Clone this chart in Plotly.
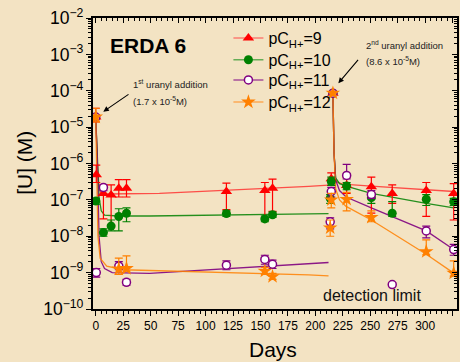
import plotly.graph_objects as go
import math

BG = "#F3E3C3"
FONT = "Liberation Sans, Arial, sans-serif"

# ---------------- measured data (days, [U] in M, error bounds) ----------------
red_days = [0, 0.5, 7, 14, 21, 28, 119, 154, 161, 214.5, 216, 228.5, 251, 270, 301, 326]
red_vals = [1.9e-5, 4.9e-7, 1.5e-7, 1.36e-7, 2.1e-7, 2.1e-7, 1.7e-7, 1.8e-7, 2.1e-7, 3.8e-7, 8.6e-5, 2.5e-7, 2.3e-7, 1.5e-7, 1.8e-7, 1.5e-7]
red_hi = [3.3e-5, 9e-7, 2.3e-7, 2.6e-7, 3.6e-7, 3.6e-7, 2.9e-7, 3.0e-7, 3.7e-7, 5.5e-7, 9.5e-5, 4.2e-7, 4.2e-7, 2.6e-7, 3.0e-7, 2.8e-7]
red_lo = [1.4e-5, 3e-7, 3e-8, 2e-8, 1.2e-7, 1.2e-7, 5.4e-8, 3.2e-8, 4.8e-8, 2.5e-7, 7.5e-5, 1.5e-7, 4.3e-8, 8e-8, 3.5e-8, 2.8e-8]

green_days = [0, 7, 14, 21, 28, 119, 154, 161, 213.5, 214.5, 216, 228.5, 251, 270, 301, 326]
green_vals = [9.3e-8, 1.26e-8, 1.9e-8, 3.5e-8, 4.3e-8, 4.2e-8, 3.0e-8, 3.9e-8, 1.1e-7, 3.2e-7, 8.6e-5, 2.4e-7, 1.15e-7, 4.3e-8, 1.04e-7, 8.9e-8]
green_hi = [1.1e-7, 1.6e-8, 2.8e-8, 5.7e-8, 6e-8, 5e-8, 3.6e-8, 4.6e-8, 1.4e-7, 4.2e-7, 9.5e-5, 3e-7, 1.5e-7, 9e-8, 1.4e-7, 1.1e-7]
green_lo = [7.5e-8, 1e-8, 1.4e-8, 1.4e-8, 2.5e-8, 3.5e-8, 2.5e-8, 3.3e-8, 8e-8, 2.5e-7, 7.5e-5, 1.9e-7, 8e-8, 3.5e-8, 7e-8, 7e-8]

purple_days = [0, 0.5, 7, 21, 28, 119, 154, 161, 213.5, 214.5, 216, 228.5, 251, 270, 301, 326]
purple_vals = [1.9e-5, 1.0e-9, 2.2e-7, 1.5e-9, 5.4e-10, 1.6e-9, 2.3e-9, 1.7e-9, 2.5e-8, 1.7e-7, 8.6e-5, 4.7e-7, 1.4e-7, 4.7e-10, 1.4e-8, 4.3e-9]
purple_hi = [2.2e-5, 1.3e-9, 2.6e-7, 2.0e-9, 6.5e-10, 2.1e-9, 3.0e-9, 2.2e-9, 3.2e-8, 2.2e-7, 9.5e-5, 9.5e-7, 1.8e-7, 5.2e-10, 1.9e-8, 6e-9]
purple_lo = [1.6e-5, 7.5e-10, 1.8e-7, 1.2e-9, 4.5e-10, 1.2e-9, 1.7e-9, 1.3e-9, 1.6e-8, 1.2e-7, 7.5e-5, 3.8e-7, 1.1e-7, 4.3e-10, 9e-9, 3e-9]

orange_days = [0, 21, 28, 154, 161, 213.5, 214.5, 216, 228.5, 251, 301, 326]
orange_vals = [1.9e-5, 1.26e-9, 1.3e-9, 1.1e-9, 7.8e-10, 1.7e-8, 1.0e-7, 8.6e-5, 1.04e-7, 3.3e-8, 3.8e-9, 9.7e-10]
orange_hi = [3.3e-5, 2.5e-9, 2.9e-9, 1.4e-9, 9.5e-10, 2.8e-8, 1.5e-7, 9.5e-5, 1.6e-7, 5e-8, 8e-9, 2.1e-9]
orange_lo = [1.4e-5, 9e-10, 1.1e-9, 9e-10, 6.5e-10, 1e-8, 6e-8, 7.5e-5, 5e-8, 2.5e-8, 3.1e-9, 8e-10]

# ---------------- model curves ----------------
red_fit1_days = [0, 1.5, 3, 5, 10, 58, 194, 212]
red_fit1_vals = [1.8e-5, 1e-6, 2.2e-7, 1.5e-7, 1.45e-7, 1.5e-7, 2.35e-7, 2.55e-7]
red_fit2_days = [216, 217, 218.5, 225, 251, 301, 326]
red_fit2_vals = [8.6e-5, 2e-6, 3.2e-7, 2.7e-7, 2.4e-7, 1.9e-7, 1.7e-7]

green_fit1_days = [0, 1.5, 3, 5, 8, 20, 49, 194, 212]
green_fit1_vals = [1.8e-5, 1e-6, 1.2e-7, 5e-8, 3.8e-8, 3.6e-8, 3.6e-8, 4.1e-8, 4.2e-8]
green_fit2_days = [216, 217, 218.5, 222, 228, 251, 301, 326]
green_fit2_vals = [8.6e-5, 2e-6, 4e-7, 2.8e-7, 2.4e-7, 1.5e-7, 8e-8, 6e-8]

purple_fit1_days = [0, 1.5, 3, 5, 8, 15, 49, 194, 212]
purple_fit1_vals = [1.8e-5, 1e-6, 1e-8, 2e-9, 1.3e-9, 1e-9, 9.5e-10, 1.8e-9, 1.9e-9]
purple_fit2_days = [216, 217, 218.5, 222, 228, 251, 301, 326]
purple_fit2_vals = [8.6e-5, 2e-6, 3.5e-7, 1.8e-7, 1.2e-7, 6e-8, 1.4e-8, 4.3e-9]

orange_fit1_days = [0, 1, 2, 4, 10, 25, 49, 194, 212]
orange_fit1_vals = [1.8e-5, 1e-6, 1e-8, 2.5e-9, 1.5e-9, 1.2e-9, 1.15e-9, 8.7e-10, 8.1e-10]
orange_fit2_days = [216, 217, 218.5, 222, 228, 251, 301, 326]
orange_fit2_vals = [8.6e-5, 2e-6, 2e-7, 1e-7, 6.6e-8, 2.8e-8, 3.2e-9, 9.7e-10]

DETECTION_LIMIT = 5e-10

legend_labels = ["pC<sub>H+</sub>=9", "pC<sub>H+</sub>=10", "pC<sub>H+</sub>=11", "pC<sub>H+</sub>=12"]

# ---------------- styles ----------------
series = [
    dict(days=red_days, vals=red_vals, hi=red_hi, lo=red_lo,
         f1=(red_fit1_days, red_fit1_vals), f2=(red_fit2_days, red_fit2_vals),
         color="#FF0000", line="rgba(255,40,40,0.8)", leg="rgba(255,80,80,0.7)",
         marker=dict(symbol="triangle-up", size=10, color="#FF0000", line=dict(width=0))),
    dict(days=green_days, vals=green_vals, hi=green_hi, lo=green_lo,
         f1=(green_fit1_days, green_fit1_vals), f2=(green_fit2_days, green_fit2_vals),
         color="#008000", line="rgba(0,128,0,0.85)", leg="rgba(40,150,40,0.7)",
         marker=dict(symbol="circle", size=9, color="#008000", line=dict(width=0))),
    dict(days=purple_days, vals=purple_vals, hi=purple_hi, lo=purple_lo,
         f1=(purple_fit1_days, purple_fit1_vals), f2=(purple_fit2_days, purple_fit2_vals),
         color="#800080", line="rgba(128,0,128,0.9)", leg="rgba(140,30,140,0.75)",
         marker=dict(symbol="circle", size=8, color="#FFFFFF", line=dict(width=1.5, color="#800080"))),
    dict(days=orange_days, vals=orange_vals, hi=orange_hi, lo=orange_lo,
         f1=(orange_fit1_days, orange_fit1_vals), f2=(orange_fit2_days, orange_fit2_vals),
         color="#FF8000", line="rgba(255,128,0,0.85)", leg="rgba(255,150,50,0.75)",
         marker=dict(symbol="star", size=11, color="#FF8000", line=dict(width=0))),
]

fig = go.Figure()

# fitted curves
for s in series:
    for fd, fv in (s["f1"], s["f2"]):
        fig.add_trace(go.Scatter(x=fd, y=fv, mode="lines", showlegend=False,
                                 line=dict(color=s["line"], width=1.3), hoverinfo="skip"))

# measured points with error bars
for s in series:
    fig.add_trace(go.Scatter(
        x=s["days"], y=s["vals"], mode="markers", showlegend=False,
        marker=s["marker"],
        error_y=dict(type="data", symmetric=False,
                     array=[h - v for h, v in zip(s["hi"], s["vals"])],
                     arrayminus=[v - l for v, l in zip(s["vals"], s["lo"])],
                     color=s["color"], thickness=1.2, width=4),
    ))

# legend entries, each in its own legend box so row spacing matches the reference
legend_names = ["legend", "legend2", "legend3", "legend4"]
legend_rows = [0.931, 0.856, 0.787, 0.711]
for s, lab, ln in zip(series, legend_labels, legend_names):
    fig.add_trace(go.Scatter(x=[None], y=[None], mode="lines+markers", name=lab, legend=ln,
                             line=dict(color=s["leg"], width=1.5), marker=s["marker"]))

# invisible trace for mirrored axes
fig.add_trace(go.Scatter(x=[None], y=[None], xaxis="x2", yaxis="y2", showlegend=False))

# detection limit
fig.add_shape(type="line", xref="paper", x0=0, x1=1, yref="y",
              y0=math.log10(DETECTION_LIMIT), y1=math.log10(DETECTION_LIMIT),
              line=dict(color="black", width=1.2, dash="dash"))

XR = [-2.5, 329]
YR = [-10, -2]

axis_common = dict(showline=True, linecolor="black", linewidth=1.5, showgrid=False,
                   zeroline=False, tickcolor="black")

layout_legends = {}
for ln, ry in zip(legend_names, legend_rows):
    layout_legends[ln] = dict(x=0.372, y=ry, xanchor="left", yanchor="middle",
                              bgcolor="rgba(0,0,0,0)", font=dict(size=16, family=FONT),
                              itemwidth=30)

fig.update_layout(
    width=460, height=362,
    margin=dict(l=93, r=3, t=18, b=53),
    paper_bgcolor=BG, plot_bgcolor=BG,
    font=dict(family=FONT, color="black"),
    xaxis=dict(range=XR, tick0=0, dtick=25, ticks="outside", ticklen=5, tickwidth=1.2,
               tickfont=dict(size=12), minor=dict(dtick=5, ticks="outside", ticklen=3, tickcolor="black"),
               **axis_common),
    yaxis=dict(type="log", range=YR, dtick=1, exponentformat="power", ticks="outside",
               ticklen=5, tickwidth=1.2, tickfont=dict(size=14),
               minor=dict(dtick="D1", ticks="outside", ticklen=3, tickcolor="black"),
               **axis_common),
    xaxis2=dict(range=XR, overlaying="x", side="top", anchor="y", tick0=0, dtick=25,
                ticks="inside", ticklen=5, showticklabels=False,
                minor=dict(dtick=5, ticks="inside", ticklen=3, tickcolor="black"),
                **axis_common),
    yaxis2=dict(type="log", range=YR, overlaying="y", side="right", anchor="x", dtick=1,
                ticks="inside", ticklen=5, showticklabels=False,
                minor=dict(dtick="D1", ticks="inside", ticklen=3, tickcolor="black"),
                **axis_common),
    **layout_legends,
)

ann_font = dict(family=FONT, size=9.5, color="#222222")
annotations = [
    dict(text="<b>ERDA 6</b>", x=0.041, y=0.904, xanchor="left", yanchor="middle",
         font=dict(family=FONT, size=21, color="black")),
    dict(text="1<sup>st</sup> uranyl addition", x=0.104, y=0.772, xanchor="left", yanchor="middle", font=ann_font),
    dict(text="(1.7 x 10<sup>-5</sup>M)", x=0.104, y=0.716, xanchor="left", yanchor="middle", font=ann_font),
    dict(text="2<sup>nd</sup> uranyl addition", x=0.7445, y=0.907, xanchor="left", yanchor="middle", font=ann_font),
    dict(text="(8.6 x 10<sup>-5</sup>M)", x=0.7445, y=0.851, xanchor="left", yanchor="middle", font=ann_font),
    dict(text="detection limit", x=0.7665, y=0.048, xanchor="center", yanchor="middle",
         font=dict(family=FONT, size=16, color="#111111")),
    dict(text="Days", x=0.4945, y=-0.138, xanchor="center", yanchor="middle",
         font=dict(family=FONT, size=21, color="black")),
    dict(text="[U] (M)", x=-0.187, y=0.502, xanchor="center", yanchor="middle", textangle=-90,
         font=dict(family=FONT, size=21, color="black")),
    # arrows
    dict(text="", x=0.0283, y=0.678, ax=26.7, ay=-18.4, showarrow=True, arrowhead=2,
         arrowsize=1, arrowwidth=1.1, arrowcolor="black"),
    dict(text="", x=0.674, y=0.7756, ax=21, ay=-25, showarrow=True, arrowhead=2,
         arrowsize=1, arrowwidth=1.1, arrowcolor="black"),
]
for a in annotations:
    a.setdefault("showarrow", False)
    a["xref"] = "paper"
    a["yref"] = "paper"
    fig.add_annotation(**a)

fig.write_html("out.html")
